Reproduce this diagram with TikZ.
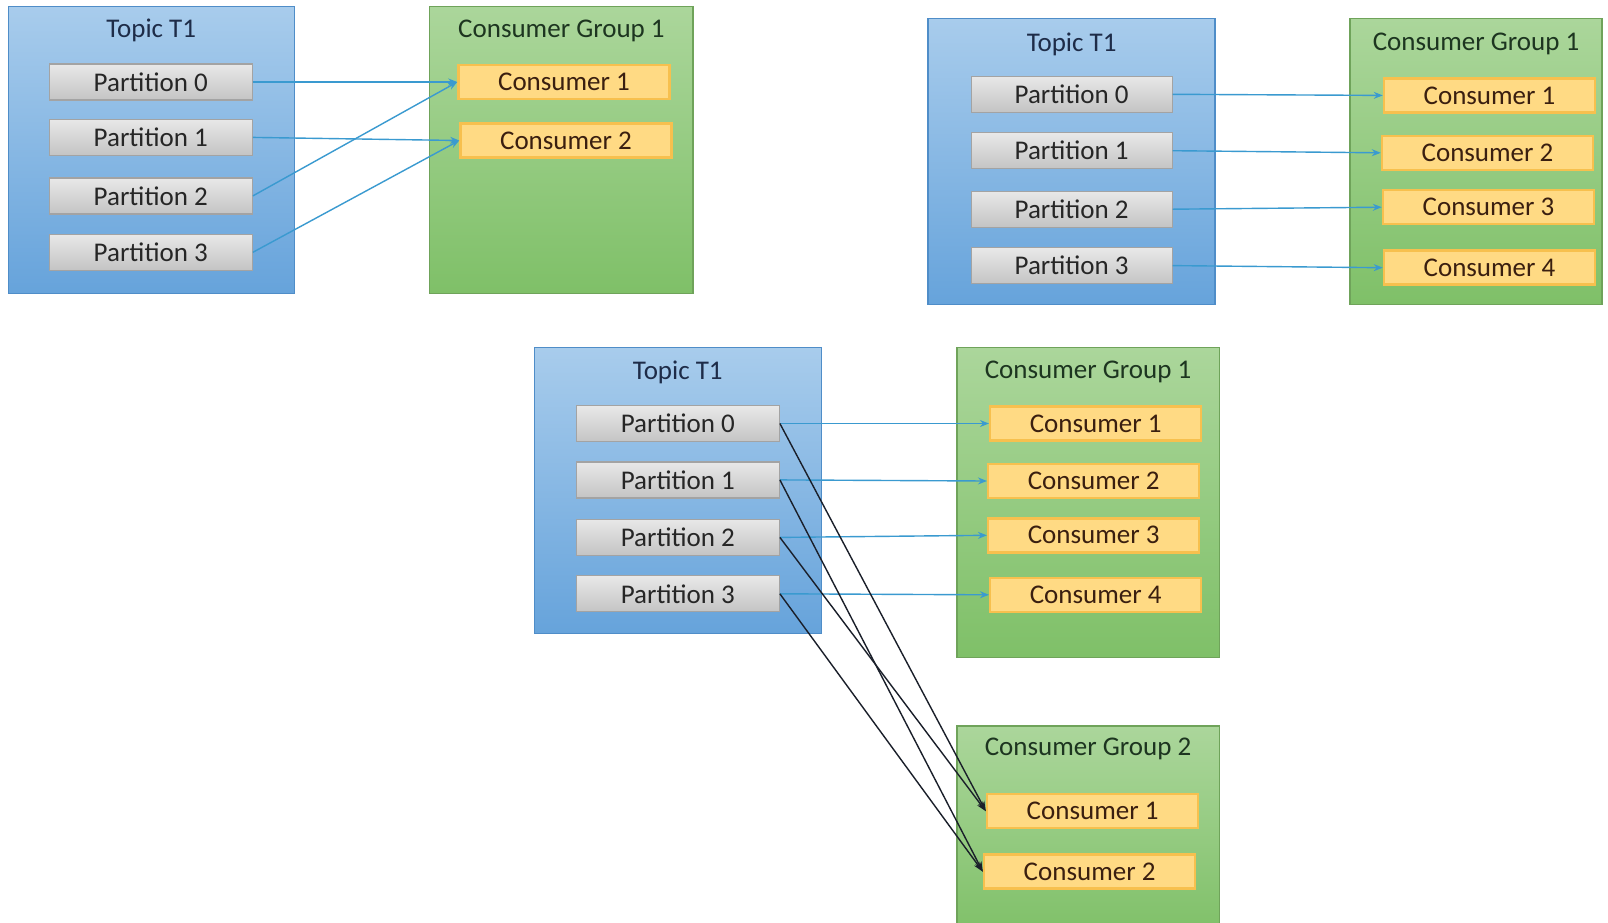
\documentclass[tikz,border=0pt]{standalone}
\usepackage{fontspec}
\setmainfont{Carlito}
\usetikzlibrary{arrows.meta}

\definecolor{topicTop}{HTML}{A8CCEC}
\definecolor{topicBot}{HTML}{66A3DB}
\definecolor{topicLine}{HTML}{4F8DC8}
\definecolor{groupTop}{HTML}{ABD69B}
\definecolor{groupBot}{HTML}{7FC068}
\definecolor{groupLine}{HTML}{6FA35A}
\definecolor{partTop}{HTML}{E8E8E8}
\definecolor{partBot}{HTML}{C4C4C4}
\definecolor{partLine}{HTML}{A3A3A3}
\definecolor{consFill}{HTML}{FFDA84}
\definecolor{consLine}{HTML}{F7C04E}
\definecolor{linkBlue}{HTML}{3A9AD0}
\definecolor{linkDark}{HTML}{1A1F2A}
\definecolor{titleBlue}{HTML}{1E2C48}
\definecolor{titleGreen}{HTML}{1D3520}
\definecolor{partText}{HTML}{262626}
\definecolor{consText}{HTML}{3A1F10}

\tikzset{
  x=1pt, y=1pt,
  txt/.style={font=\fontsize{27}{32}\selectfont},
  topicbox/.style={rectangle, draw=topicLine, line width=1.5pt,
    top color=topicTop, bottom color=topicBot, inner sep=0pt},
  groupbox/.style={rectangle, draw=groupLine, line width=1.5pt,
    top color=groupTop, bottom color=groupBot, inner sep=0pt},
  topictitle/.style={txt, text=titleBlue, inner sep=0pt},
  grouptitle/.style={txt, text=titleGreen, inner sep=0pt},
  partbox/.style={rectangle, draw=partLine, line width=1.2pt,
    top color=partTop, bottom color=partBot,
    minimum height=36pt, inner sep=0pt, txt, text=partText},
  consbox/.style={rectangle, draw=consLine, line width=2.5pt,
    fill=consFill, minimum width=211pt,
    minimum height=34pt, inner sep=0pt, txt, text=consText},
  bluelink/.style={draw=linkBlue, line width=1.4pt,
    -{Stealth[length=9pt,width=7pt]}},
  darklink/.style={draw=linkDark, line width=1.4pt,
    -{Stealth[length=10pt,width=7pt]}},
}

\begin{document}
\begin{tikzpicture}
\fill[white] (0,0) rectangle (1608,-922);
\useasboundingbox (0,0) rectangle (1608,-922);

% ---------- left: four partitions, two consumers ----------
\node[topicbox, minimum width=286pt, minimum height=287pt] (aT) at (151.25,-149.75) {};
\node[topictitle] (aTt) at (151.25,-30.8) {Topic T1};
\node[groupbox, minimum width=263.5pt, minimum height=287pt] (aG) at (561.45,-149.75) {};
\node[grouptitle] (aGt) at (561.45,-30.8) {Consumer Group 1};

\node[partbox, minimum width=203pt] (aP0) at (150.75,-82) {Partition 0};
\node[partbox, minimum width=203pt] (aP1) at (150.75,-137.4) {Partition 1};
\node[partbox, minimum width=203pt] (aP2) at (150.75,-195.9) {Partition 2};
\node[partbox, minimum width=203pt] (aP3) at (150.75,-252.3) {Partition 3};

\node[consbox] (aC1) at (564,-82) {Consumer 1};
\node[consbox] (aC2) at (566,-140.5) {Consumer 2};

\draw[bluelink] (aP0.east) -- (aC1.west);
\draw[bluelink] (aP1.east) -- (aC2.west);
\draw[bluelink] (aP2.east) -- (aC1.west);
\draw[bluelink] (aP3.east) -- (aC2.west);

% ---------- right: four partitions, four consumers ----------
\node[topicbox, minimum width=287pt, minimum height=286pt] (bT) at (1071.65,-161.55) {};
\node[topictitle] (bTt) at (1071.65,-44.1) {Topic T1};
\node[groupbox, minimum width=252pt, minimum height=286pt] (bG) at (1476,-161.55) {};
\node[grouptitle] (bGt) at (1476,-44.1) {Consumer Group 1};

\node[partbox, minimum width=201pt] (bP0) at (1071.6,-94.3) {Partition 0};
\node[partbox, minimum width=201pt] (bP1) at (1071.6,-150.7) {Partition 1};
\node[partbox, minimum width=201pt] (bP2) at (1071.6,-209.2) {Partition 2};
\node[partbox, minimum width=201pt] (bP3) at (1071.6,-265.6) {Partition 3};

\node[consbox] (bC1) at (1489.5,-95.4) {Consumer 1};
\node[consbox] (bC2) at (1487.5,-152.8) {Consumer 2};
\node[consbox] (bC3) at (1488.5,-207.2) {Consumer 3};
\node[consbox] (bC4) at (1489.5,-267.7) {Consumer 4};

\draw[bluelink] (bP0.east) -- (bC1.west);
\draw[bluelink] (bP1.east) -- (bC2.west);
\draw[bluelink] (bP2.east) -- (bC3.west);
\draw[bluelink] (bP3.east) -- (bC4.west);

% ---------- bottom: two consumer groups on one topic ----------
\node[topicbox, minimum width=287pt, minimum height=286pt] (cT) at (677.85,-490.7) {};
\node[topictitle] (cTt) at (677.85,-372.3) {Topic T1};
\node[groupbox, minimum width=262.5pt, minimum height=309.7pt] (cG1) at (1088,-502.45) {};
\node[grouptitle] (cG1t) at (1088,-372.3) {Consumer Group 1};
\node[groupbox, minimum width=262.5pt, minimum height=210pt] (cG2) at (1088,-831.1) {};
\node[grouptitle] (cG2t) at (1088,-748.6) {Consumer Group 2};

\node[partbox, minimum width=203pt] (cP0) at (677.8,-423.5) {Partition 0};
\node[partbox, minimum width=203pt] (cP1) at (677.8,-479.9) {Partition 1};
\node[partbox, minimum width=203pt] (cP2) at (677.8,-537.4) {Partition 2};
\node[partbox, minimum width=203pt] (cP3) at (677.8,-593.8) {Partition 3};

\node[consbox] (cC1) at (1095.7,-423.5) {Consumer 1};
\node[consbox] (cC2) at (1093.7,-481) {Consumer 2};
\node[consbox] (cC3) at (1093.7,-535.3) {Consumer 3};
\node[consbox] (cC4) at (1095.7,-594.8) {Consumer 4};

\node[consbox] (dC1) at (1092.6,-811.2) {Consumer 1};
\node[consbox] (dC2) at (1089.6,-871.7) {Consumer 2};

\draw[bluelink] (cP0.east) -- (cC1.west);
\draw[bluelink] (cP1.east) -- (cC2.west);
\draw[bluelink] (cP2.east) -- (cC3.west);
\draw[bluelink] (cP3.east) -- (cC4.west);

\draw[darklink] (cP0.east) -- (dC1.west);
\draw[darklink] (cP1.east) -- (dC2.west);
\draw[darklink] (cP2.east) -- (dC1.west);
\draw[darklink] (cP3.east) -- (dC2.west);
\end{tikzpicture}
\end{document}
